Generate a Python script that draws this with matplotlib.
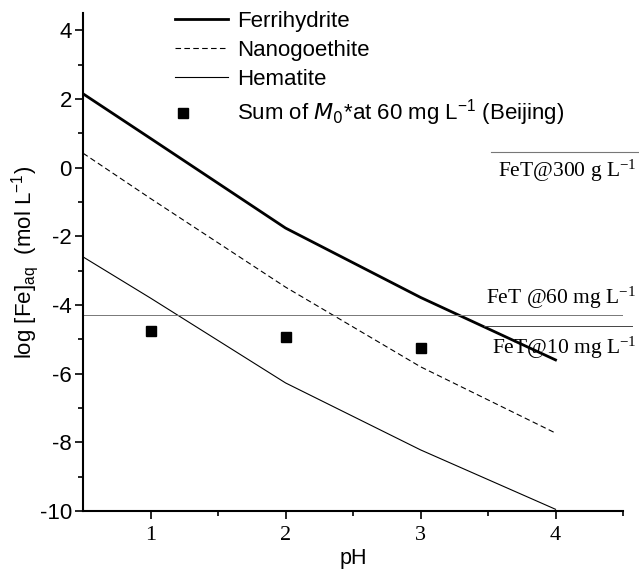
import numpy as np
import matplotlib
matplotlib.use("Agg")
import matplotlib.pyplot as plt
from matplotlib.lines import Line2D

plt.rcParams['font.family'] = ['Liberation Sans', 'DejaVu Sans']
plt.rcParams['mathtext.default'] = 'regular'

# values
ph = [0.5, 1, 2, 3, 4]
ferrihydrite = [2.15, 0.85, -1.76, -3.78, -5.6]
nanogoethite = [0.42, -0.9, -3.48, -5.8, -7.73]
hematite = [-2.6, -3.8, -6.27, -8.22, -9.95]

ph_pts = [1, 2, 3]
sum_m0 = [-4.76, -4.93, -5.25]

fet60 = -4.29
fet10 = -4.61
fet300 = 0.45

fig = plt.figure(figsize=(6.39, 5.70), dpi=100)
ax = fig.add_axes([0.130, 0.1035, 0.845, 0.8735])

ax.plot(ph, ferrihydrite, color='black', lw=2.0)
ax.plot(ph, nanogoethite, color='black', lw=0.8, ls=(0, (5, 3)))
ax.plot(ph, hematite, color='black', lw=0.8)
ax.plot(ph_pts, sum_m0, ls='none', marker='s', ms=6.5, color='black')

# FeT reference lines
ax.plot([0.5, 4.5], [fet60, fet60], color='#777777', lw=0.7)
ax.plot([3.47, 4.57], [fet10, fet10], color='#444444', lw=0.7, clip_on=False)
ax.plot([3.52, 4.62], [fet300, fet300], color='#777777', lw=0.8, clip_on=False)

tfont = dict(family=['Liberation Serif', 'DejaVu Serif'], fontsize=15.5)
ax.text(4.6, fet300 - 0.17, 'FeT@300 g L$^{-1}$', ha='right', va='top', **tfont)
ax.text(4.6, fet60 + 0.12, 'FeT @60 mg L$^{-1}$', ha='right', va='bottom', **tfont)
ax.text(4.6, fet10 - 0.25, 'FeT@10 mg L$^{-1}$', ha='right', va='top', **tfont)

ax.set_xlim(0.5, 4.5)
ax.set_ylim(-10, 4.5)
ax.set_xticks([1, 2, 3, 4])
ax.set_xticks([1.5, 2.5, 3.5, 4.5], minor=True)
ax.set_yticks([4, 2, 0, -2, -4, -6, -8, -10])
ax.set_yticks([3, 1, -1, -3, -5, -7, -9], minor=True)
ax.set_yticklabels(['4', '2', '0', '-2', '-4', '-6', '-8', '-10'])
for lab in ax.get_xticklabels():
    lab.set_fontfamily(['Liberation Serif', 'DejaVu Serif'])
    lab.set_fontsize(16)
ax.tick_params(axis='y', labelsize=16, pad=2)
ax.tick_params(axis='x', pad=5)
ax.tick_params(which='major', direction='out', length=6, width=1.2)
ax.tick_params(which='minor', direction='out', length=3.5, width=1.2)

for s in ['top', 'right']:
    ax.spines[s].set_visible(False)
for s in ['left', 'bottom']:
    ax.spines[s].set_linewidth(1.5)

ax.set_xlabel('pH', fontsize=15.5, labelpad=2)
ax.set_ylabel('log [Fe]$_{aq}$  (mol L$^{-1}$)', fontsize=16, labelpad=-1)

handles = [
    Line2D([], [], color='black', lw=2.0),
    Line2D([], [], color='black', lw=0.8, ls=(0, (5, 3))),
    Line2D([], [], color='black', lw=0.8),
    Line2D([], [], ls='none'),
]
labels = ['Ferrihydrite', 'Nanogoethite', 'Hematite',
          r'Sum of $\mathit{M_0}$*at 60 mg L$^{-1}$ (Beijing)']
ax.legend(handles, labels, loc='upper left', bbox_to_anchor=(0.154, 1.022),
          frameon=False, fontsize=16, handlelength=2.4, handletextpad=0.4,
          labelspacing=0.35, borderaxespad=0)
# legend square sits at the left of its handle, as in the original
ax.plot([0.185], [0.8], ls='none', marker='s', ms=6.5, color='black',
        transform=ax.transAxes, clip_on=False)

fig.savefig('out.png', dpi=100)
